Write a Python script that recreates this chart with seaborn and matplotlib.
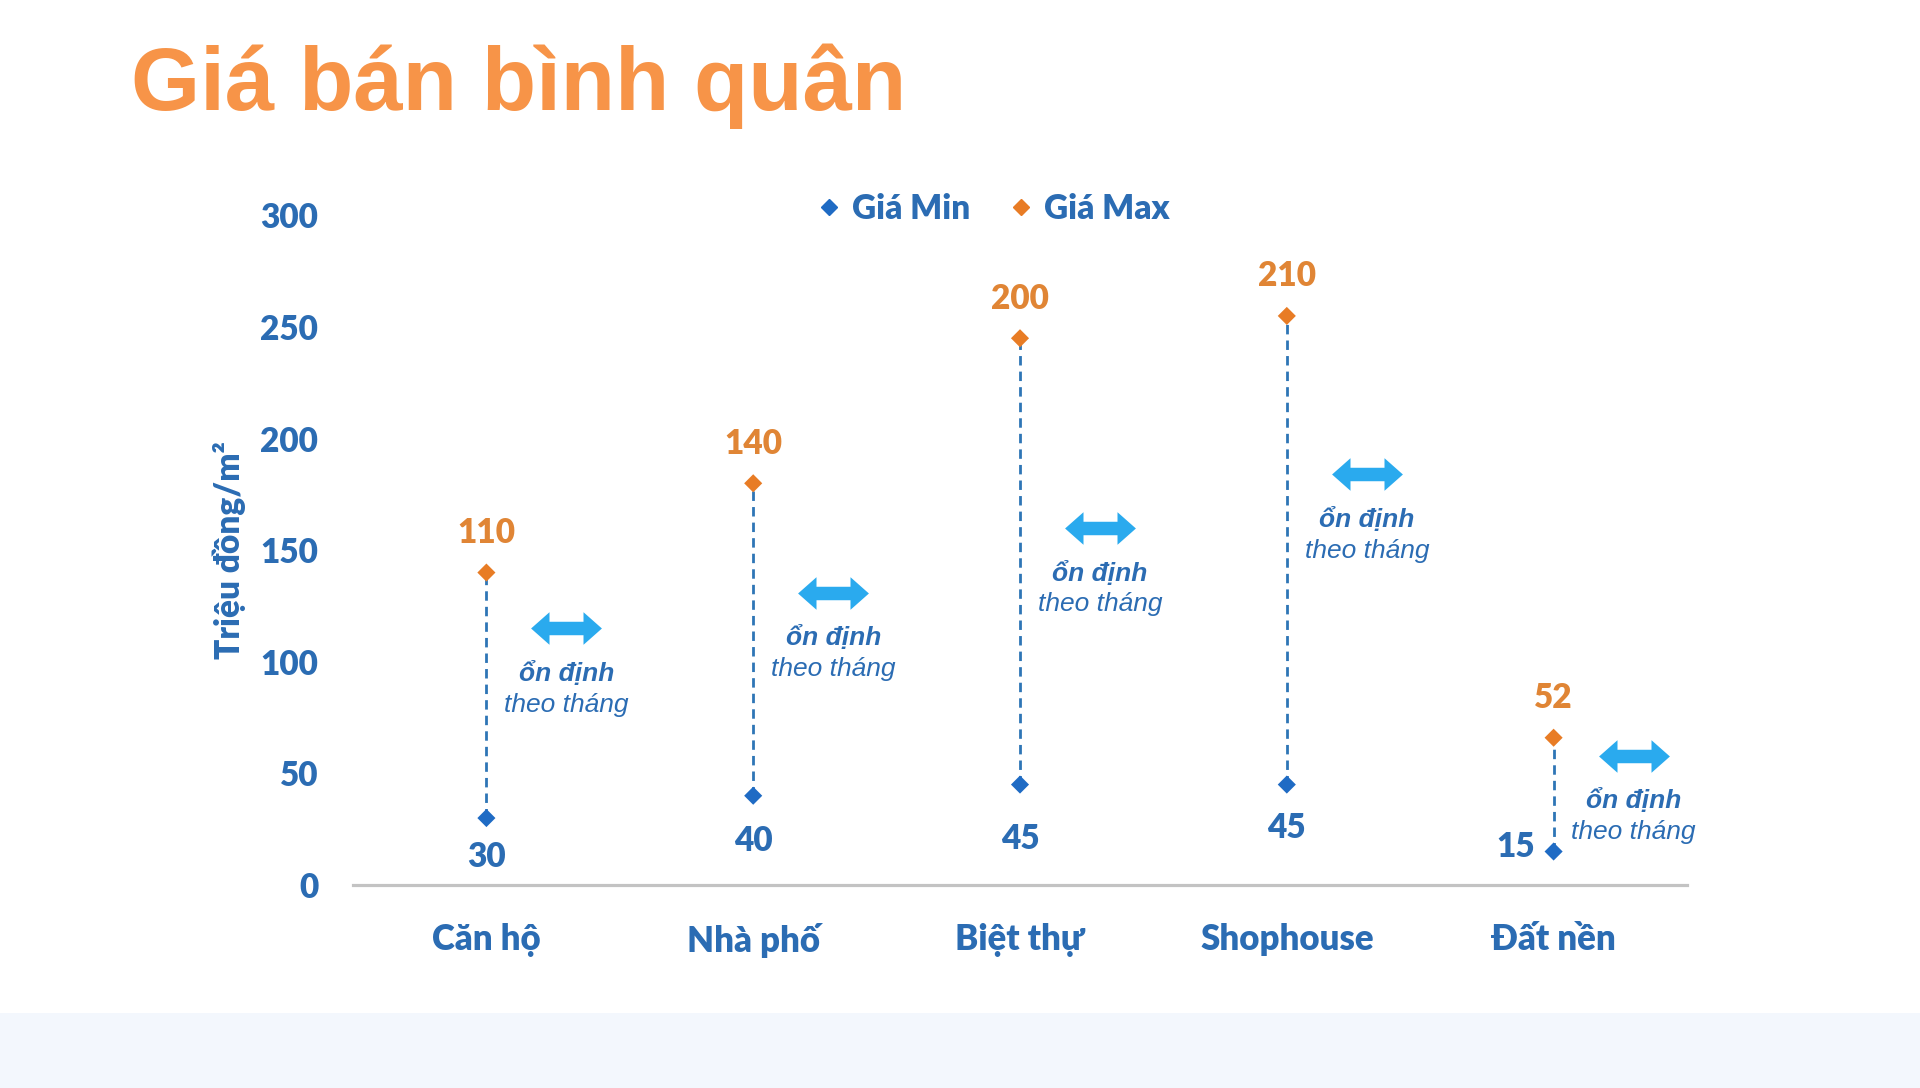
import matplotlib
matplotlib.use("Agg")
import matplotlib.pyplot as plt
import seaborn as sns
import pandas as pd
import numpy as np
from matplotlib.path import Path
from matplotlib.patches import Rectangle
from matplotlib.lines import Line2D

# ---------------- data ----------------
categories = ["Căn hộ", "Nhà phố", "Biệt thự", "Shophouse", "Đất nền"]
min_values = [30, 40, 45, 45, 15]          # plotted position of "Giá Min"
max_values = [140, 180, 245, 255, 66]      # plotted position of "Giá Max"
min_labels = ["30", "40", "45", "45", "15"]
max_labels = ["110", "140", "200", "210", "52"]
trend_values = [115, 131, 160, 184, 58]    # height of the "stable" arrows
trend_line1 = "ổn định"
trend_line2 = "theo tháng"
series_names = ["Giá Min", "Giá Max"]
yticks = [0, 50, 100, 150, 200, 250, 300]
title = "Giá bán bình quân"
ylabel = "Triệu đồng/m²"

# label offsets (points) for the min-value labels
min_label_offsets = [(0, -28), (0, -32.5), (0, -39.5), (0, -31), (-27, 3)]

# ---------------- styles ----------------
BLUE_TXT = "#2B6CB3"
BLUE_MK = "#1F6BC4"
ORANGE_MK = "#E87C25"
ORANGE_TXT = "#E08535"
ARROW = "#2AAAEE"
TITLE_C = "#F79448"
WEIGHT = "heavy"

sns.set_theme(style="white")
plt.rcParams["font.family"] = ["Lato", "Open Sans", "DejaVu Sans"]

fig = plt.figure(figsize=(19.2, 10.88), dpi=100)
fig.patch.set_facecolor("white")
fig.add_artist(Rectangle((0, 0), 1, 1 - 1013 / 1088, transform=fig.transFigure,
                         facecolor="#F3F7FD", edgecolor="none", zorder=0))

ax = fig.add_axes([353 / 1920, 1 - 885 / 1088, (1687 - 353) / 1920, (885 - 215.5) / 1088])
ax.set_facecolor("none")

x_pos = np.arange(len(categories))
df = pd.DataFrame({
    "x": np.concatenate([x_pos, x_pos]),
    "value": min_values + max_values,
    "series": [series_names[0]] * len(categories) + [series_names[1]] * len(categories),
})

# dashed connectors
ax.vlines(x_pos, min_values, max_values, colors="#2E75B6", linewidth=2.0,
          linestyles=(0, (3.4, 2.2)), zorder=2)

sns.scatterplot(data=df, x="x", y="value", hue="series",
                palette={series_names[0]: BLUE_MK, series_names[1]: ORANGE_MK},
                marker="D", s=85, linewidth=0, legend=False, ax=ax, zorder=3)

# double arrow marker
arrow_path = Path([(-1, 0), (-0.48, 0.46), (-0.48, 0.19), (0.48, 0.19), (0.48, 0.46),
                   (1, 0), (0.48, -0.46), (0.48, -0.19), (-0.48, -0.19), (-0.48, -0.46),
                   (-1, 0)], closed=True)
arrow_x = x_pos + 0.3
sns.scatterplot(x=arrow_x, y=trend_values, marker=arrow_path, s=51 ** 2,
                color=ARROW, linewidth=0, legend=False, ax=ax, zorder=3)

for xa, ya in zip(arrow_x, trend_values):
    ax.annotate(trend_line1, (xa, ya), xytext=(0, -32.5), textcoords="offset points",
                ha="center", va="center", fontsize=19, fontweight="bold",
                fontstyle="italic", family=["Liberation Sans", "DejaVu Sans"],
                color=BLUE_TXT, annotation_clip=False)
    ax.annotate(trend_line2, (xa, ya), xytext=(0, -55), textcoords="offset points",
                ha="center", va="center", fontsize=19, fontstyle="italic",
                family=["Liberation Sans", "DejaVu Sans"],
                color=BLUE_TXT, annotation_clip=False)

# value labels
for i, (xv, ymn, ymx) in enumerate(zip(x_pos, min_values, max_values)):
    ax.annotate(max_labels[i], (xv, ymx), xytext=(0, 28.5), textcoords="offset points",
                ha="center", va="center", fontsize=24, fontweight=WEIGHT,
                color=ORANGE_TXT, annotation_clip=False)
    ax.annotate(min_labels[i], (xv, ymn), xytext=min_label_offsets[i],
                textcoords="offset points",
                ha="center", va="center", fontsize=24, fontweight=WEIGHT,
                color=BLUE_TXT, annotation_clip=False)

# axes styling
ax.set_xlim(-0.5, len(categories) - 0.5)
ax.set_ylim(0, 300)
ax.set_yticks(yticks)
ax.set_yticklabels([str(t) for t in yticks])
ax.set_xticks(x_pos)
ax.set_xticklabels(categories)
ax.tick_params(axis="y", length=0, pad=25, labelsize=24, labelcolor=BLUE_TXT)
ax.tick_params(axis="x", length=0, pad=27.5, labelsize=25, labelcolor=BLUE_TXT)
for lab in ax.get_xticklabels() + ax.get_yticklabels():
    lab.set_fontweight(WEIGHT)
ax.set_xlabel("")
ax.set_ylabel(ylabel, fontsize=24, fontweight=WEIGHT, color=BLUE_TXT, va="center")
ax.yaxis.set_label_coords(-0.093, 0.5)
for s in ["left", "top", "right"]:
    ax.spines[s].set_visible(False)
ax.spines["bottom"].set_color("#C3C3C3")
ax.spines["bottom"].set_linewidth(2.3)
ax.grid(False)

# legend
handles = [Line2D([], [], marker="D", linestyle="", color=BLUE_MK, markersize=8.5),
           Line2D([], [], marker="D", linestyle="", color=ORANGE_MK, markersize=8.5)]
leg = fig.legend(handles, series_names, loc="center", bbox_to_anchor=(0.517, 0.808),
                 ncol=2, frameon=False, fontsize=24, handletextpad=0.3,
                 columnspacing=1.1, handlelength=0.8, labelcolor=BLUE_TXT)
for t in leg.get_texts():
    t.set_fontweight(WEIGHT)

# title
fig.text(131 / 1920, 1 - 110 / 1088, title, fontsize=64, fontweight="bold",
         color=TITLE_C, family=["Liberation Sans", "DejaVu Sans"],
         ha="left", va="baseline")

fig.savefig("out.png", dpi=100)
